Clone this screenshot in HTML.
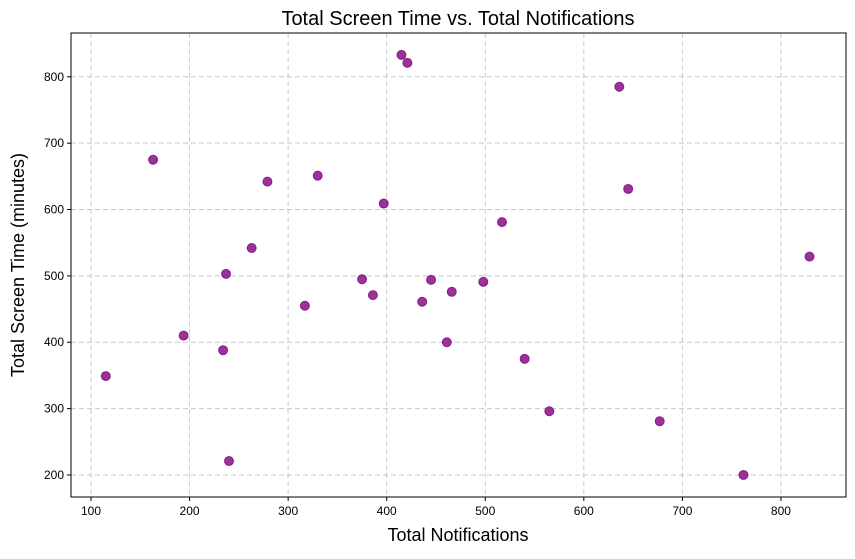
<!DOCTYPE html>
<html><head><meta charset="utf-8"><style>
body{margin:0;background:#fff;font-family:"Liberation Sans",sans-serif}
svg text{font-family:"Liberation Sans",sans-serif}
</style></head><body>
<svg id="chart" width="855" height="554" xmlns="http://www.w3.org/2000/svg">
<rect width="855" height="554" fill="#fff"/>
<text x="458" y="25" font-size="20" text-anchor="middle" fill="#000">Total Screen Time vs. Total Notifications</text>
<text x="458" y="541" font-size="18" text-anchor="middle" fill="#000">Total Notifications</text>
<text transform="translate(24,265) rotate(-90)" font-size="18" text-anchor="middle" fill="#000">Total Screen Time (minutes)</text>
<g id="grid"></g><g id="ticks"></g><g id="points"></g>
<rect x="71" y="33" width="775" height="464" fill="none" stroke="#000" stroke-width="1"/>
</svg>
<script>
const notifications=[415,421,636,163,279,330,645,397,517,263,237,829,375,445,386,466,498,317,436,194,461,234,540,115,565,677,240,762];
const screenTime=[833,821,785,675,642,651,631,609,581,542,503,529,495,494,471,476,491,455,461,410,400,388,375,349,296,281,221,200];
const xTicks=[100,200,300,400,500,600,700,800];
const yTicks=[200,300,400,500,600,700,800];
const L=71,R=846,T=33,B=497,xMin=79.7,xMax=866,yMin=166.8,yMax=866;
const sx=v=>L+(v-xMin)/(xMax-xMin)*(R-L);
const sy=v=>B-(v-yMin)/(yMax-yMin)*(B-T);
const NS="http://www.w3.org/2000/svg";
const g=document.getElementById('grid'),tk=document.getElementById('ticks'),pts=document.getElementById('points');
function mk(tag,attrs,parent){const e=document.createElementNS(NS,tag);for(const k in attrs)e.setAttribute(k,attrs[k]);parent.appendChild(e);return e;}
xTicks.forEach(v=>{const x=sx(v);
const l=mk('line',{x1:x,x2:x,y1:T,y2:B,stroke:'#c8c8c8','stroke-dasharray':'5,3'},g);


mk('line',{x1:x,x2:x,y1:B,y2:B+4,stroke:'#000'},tk);
const t=mk('text',{x:x,y:B+18,'font-size':12,'text-anchor':'middle'},tk);t.textContent=v;

});
yTicks.forEach(v=>{const y=sy(v);
const l=mk('line',{x1:L,x2:R,y1:y,y2:y,stroke:'#c8c8c8','stroke-dasharray':'5,3'},g);


mk('line',{x1:L-4,x2:L,y1:y,y2:y,stroke:'#000'},tk);
const t=mk('text',{x:L-7,y:y+4,'font-size':12,'text-anchor':'end'},tk);t.textContent=v;

});
notifications.forEach((v,i)=>{const c=mk('circle',{cx:sx(v),cy:sy(screenTime[i]),r:4.5,fill:'#800080','fill-opacity':0.8,stroke:'#800080','stroke-opacity':0.8},pts);

});
</script>
</body></html>
